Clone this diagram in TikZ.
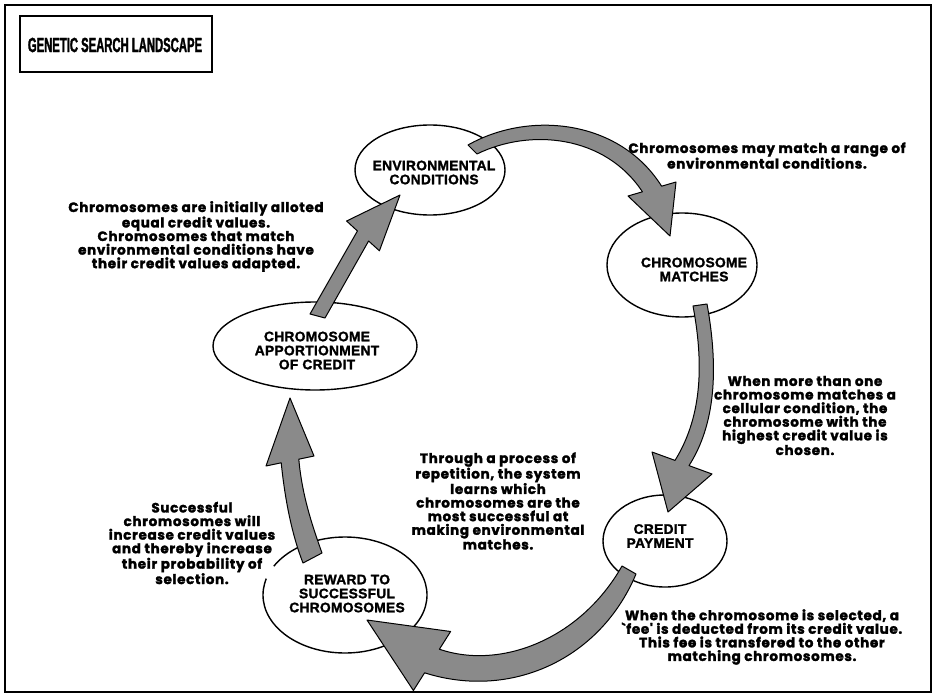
\documentclass[tikz,border=0pt]{standalone}
\usepackage{fontspec}
\setmainfont{Poppins}
\newfontfamily\notefont[FakeBold=2,LetterSpace=5]{Poppins Bold}
\newfontfamily\capsfont[FakeBold=1.5,LetterSpace=2]{Liberation Sans Bold}
\newfontfamily\titlefont[FakeStretch=0.55,FakeBold=1.5]{Liberation Sans Bold}
\usetikzlibrary{shapes.geometric}
\definecolor{arrowgray}{HTML}{8A8A8A}
\begin{document}
\begin{tikzpicture}[x=1pt,y=-1pt,
  blob/.style={ellipse, draw, line width=1.4pt, fill=white, inner sep=0pt},
  blockarrow/.style={fill=arrowgray, draw=black, line width=1pt, line join=round},
  note/.style={font=\notefont\fontsize{13.5}{13.6}\selectfont, align=center, inner sep=0pt},
  capt/.style={font=\capsfont\fontsize{13.8}{14}\selectfont, align=center, inner sep=0pt},
  frame/.style={draw, line width=1.3pt}]
\useasboundingbox (0,0) rectangle (936,695);
\fill[white] (0,0) rectangle (936,695);
\draw[frame] (5,5) rectangle (931,692);

% title
\draw[line width=1.8pt] (20,16) rectangle (212,72);
\node[font=\titlefont\fontsize{20.5}{20.5}\selectfont, inner sep=0pt] (title) at (115,45) {GENETIC SEARCH LANDSCAPE};

% ellipses
\node[blob, minimum width=150pt, minimum height=90pt] (env) at (430,170) {};
\node[blob, minimum width=150pt, minimum height=104pt] (match) at (682,265) {};
\node[blob, minimum width=204pt, minimum height=88pt] (appo) at (315,346) {};
\node[blob, minimum width=124pt, minimum height=92pt] (pay) at (665,541) {};
\node[blob, minimum width=164pt, minimum height=116pt] (reward) at (345,595) {};
\draw[white, line width=4pt] (reward.158) -- (reward.168);

% arrows
% apportionment -> environmental
\draw[blockarrow] (310,314) -- (357.4,231) -- (346.6,221) -- (400,195) -- (379.4,250.8) -- (368.6,241) -- (325,318) -- cycle;
% environmental -> matches
\draw[blockarrow] (468,145) .. controls (530,110) and (620,120) .. (661.6,186.2)
  -- (676,182) -- (670,236) -- (628,196) -- (642.4,191.8)
  .. controls (605,135) and (530,128) .. (477,154) -- cycle;
% matches -> payment
\draw[blockarrow] (693,306) .. controls (705,370) and (700,420) .. (675,460.4)
  -- (652,452) -- (668,512) -- (712,474) -- (689,465.6)
  .. controls (715,425) and (719,370) .. (707,304) -- cycle;
% payment -> reward
\draw[blockarrow] (622,566) .. controls (580,640) and (500,670) .. (439.4,649.2)
  -- (450.6,631.5) -- (367,620) -- (413.4,690.5) -- (424.6,672.8)
  .. controls (510,700) and (600,660) .. (636,574) -- cycle;
% reward -> apportionment
\draw[blockarrow] (303,563) .. controls (292,535) and (285,500) .. (281.2,462.8)
  -- (266,466) -- (290,398) -- (314,456) -- (298.8,459.2)
  .. controls (302,495) and (312,525) .. (322,553) -- cycle;

% ellipse captions
\node[capt] (envt) at (434,172.5) {ENVIRONMENTAL\\CONDITIONS};
\node[capt] (matcht) at (694,269.5) {CHROMOSOME\\MATCHES};
\node[capt] (appot) at (317,350.5) {CHROMOSOME\\APPORTIONMENT\\OF CREDIT};
\node[capt] (payt) at (660,536) {CREDIT\\PAYMENT};
\node[capt] (rewardt) at (347,593.5) {REWARD TO\\SUCCESSFUL\\CHROMOSOMES};

% notes
\node[note] (n1) at (767,155.5) {Chromosomes may match a range of\\environmental conditions.};
\node[note] (n2) at (196,236.5) {Chromosomes are initially alloted\\equal credit values.\\Chromosomes that match\\environmental conditions have\\their credit values adapted.};
\node[note] (n3) at (805,415.5) {When more than one\\chromosome matches a\\cellular condition, the\\chromosome with the\\highest credit value is\\chosen.};
\node[note] (n4) at (498,501) {Through a process of\\repetition, the system\\learns which\\chromosomes are the\\most successful at\\making environmental\\matches.};
\node[note] (n5) at (192,543) {Successful\\chromosomes will\\increase credit values\\and thereby increase\\their probability of\\selection.};
\node[note] (n6) at (762,637) {When the chromosome is selected, a\\`fee' is deducted from its credit value.\\This fee is transfered to the other\\matching chromosomes.};
\end{tikzpicture}
\end{document}
